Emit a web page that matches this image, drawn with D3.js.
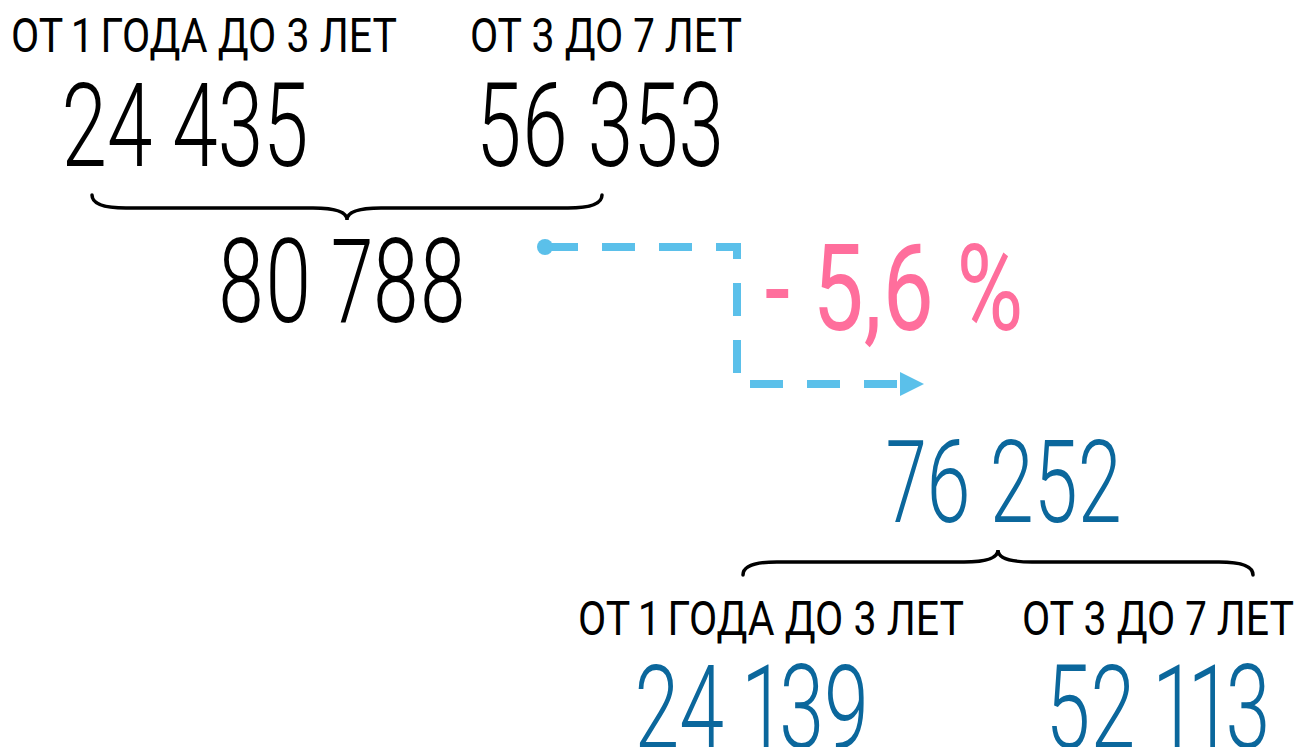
<!DOCTYPE html>
<html>
<head>
<meta charset="utf-8">
<script src="https://cdn.jsdelivr.net/npm/d3@7"></script>
<style>
    body { margin: 0; background: #fff; }
    svg { display: block; }
</style>
</head>
<body>
<div id="chart"></div>
<script>
// data
let groups = ["ОТ 1 ГОДА ДО 3 ЛЕТ", "ОТ 3 ДО 7 ЛЕТ"];
let before = [24435, 56353];
let after = [24139, 52113];

let width = 1298;
let height = 747;

let blue = "#0b679c";
let pink = "#ff6e9c";
let cyan = "#5bc0ea";

let totalBefore = d3.sum(before);
let totalAfter = d3.sum(after);
let change = (totalAfter / totalBefore - 1) * 100;

let ru = d3.formatLocale({decimal: ",", thousands: " ", grouping: [3], currency: ["", ""], minus: "-"});
let fmtInt = ru.format(",d");
let fmtPct = ru.format(".1f");

// column positions (centres) for the two age groups
let xTopLabel = d3.scaleOrdinal().domain(groups).range([204, 606]);
let xTopNum = d3.scaleOrdinal().domain(groups).range([185, 600]);
let xBotLabel = d3.scaleOrdinal().domain(groups).range([771, 1158]);
let xBotNum = d3.scaleOrdinal().domain(groups).range([752, 1158]);

let svg = d3.select("#chart")
    .append("svg")
    .attr("width", width)
    .attr("height", height);

/**
 * Draws condensed text: horizontal squeeze done with a scale transform.
 */
function label(x, y, str, size, weight, color, sx) {
    svg.append("g")
        .attr("transform", `translate(${x},${y}) scale(${sx},1)`)
        .append("text")
        .attr("text-anchor", "middle")
        .style("font-family", "Roboto, 'Noto Sans', sans-serif")
        .style("font-size", size + "px")
        .style("font-weight", weight)
        .style("font-variant-numeric", "proportional-nums")
        .style("fill", color)
        .text(str);
}

/**
 * Curly brace between x1 and x2, ends at y0, tip at y0 + dir * depth.
 */
function brace(x1, x2, y0, dir) {
    let mid = (x1 + x2) / 2;
    let ym = y0 + dir * 13;
    let yt = y0 + dir * 25;
    let r = 34;
    let p = d3.path();
    p.moveTo(x1, y0);
    p.quadraticCurveTo(x1, ym, x1 + r, ym);
    p.lineTo(mid - r, ym);
    p.quadraticCurveTo(mid, ym, mid, yt);
    p.quadraticCurveTo(mid, ym, mid + r, ym);
    p.lineTo(x2 - r, ym);
    p.quadraticCurveTo(x2, ym, x2, y0);
    svg.append("path")
        .attr("d", p.toString())
        .attr("fill", "none")
        .attr("stroke", "#000")
        .attr("stroke-width", 3.5)
        .attr("stroke-linecap", "round");
}

// top block (before)
groups.forEach((g, i) => {
    label(xTopLabel(g), 52, g, 48, 400, "#000", 0.855);
    label(xTopNum(g), 166, fmtInt(before[i]), 117, 300, "#000", 0.70);
});
brace(92, 602, 195, 1);
label(342, 322, fmtInt(totalBefore), 117, 300, "#000", 0.70);

// connector arrow
let conn = d3.line()([[545, 247], [737, 247], [737, 384], [900, 384]]);
svg.append("path")
    .attr("d", conn)
    .attr("fill", "none")
    .attr("stroke", cyan)
    .attr("stroke-width", 8)
    .attr("stroke-dasharray", "33,24");
svg.append("circle")
    .attr("cx", 545)
    .attr("cy", 247)
    .attr("r", 8)
    .attr("fill", cyan);
svg.append("path")
    .attr("d", d3.line()([[900, 372], [924, 384], [900, 396]]) + "Z")
    .attr("fill", cyan);

// change
label(894, 330, "- " + fmtPct(Math.abs(change)) + " %", 120, 400, pink, 0.76);

// bottom block (after)
label(1004, 522, fmtInt(totalAfter), 115, 300, blue, 0.69);
brace(743, 1253, 575, -1);
groups.forEach((g, i) => {
    label(xBotLabel(g), 635, g, 48, 400, "#000", 0.855);
    label(xBotNum(g), 748, fmtInt(after[i]), 117, 300, blue, 0.69);
});
</script>
</body>
</html>
